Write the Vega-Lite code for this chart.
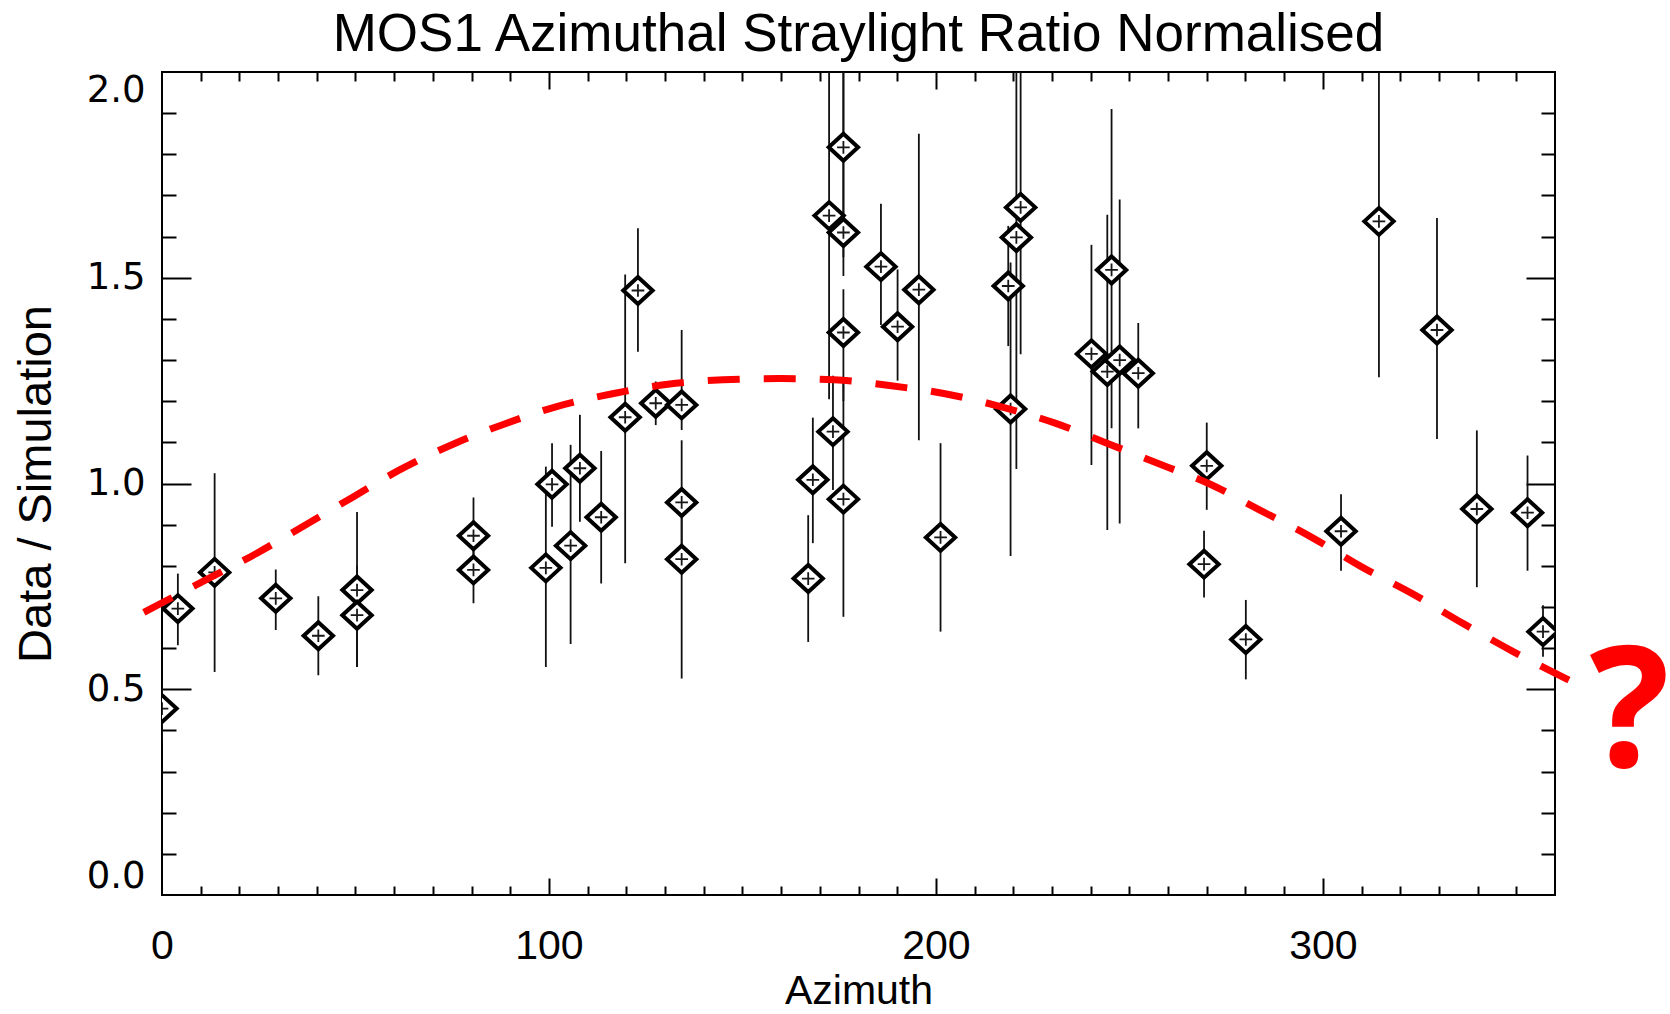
{
  "$schema": "https://vega.github.io/schema/vega-lite/v6.json",
  "autosize": {"type": "none"},
  "padding": {"left": 162, "top": 72, "right": 115, "bottom": 119},
  "width": 1393,
  "height": 823,
  "background": "white",
  "title": {"text": "MOS1 Azimuthal Straylight Ratio Normalised", "font": "Liberation Sans", "fontSize": 53, "fontWeight": "normal", "color": "black", "anchor": "middle", "offset": 9},
  "config": {
    "view": {"stroke": "black", "strokeWidth": 2},
    "axis": {"grid": false, "domain": false, "tickColor": "black", "tickWidth": 2, "labelColor": "black", "titleColor": "black"}
  },
  "datasets": {
    "pts": [
      {"az": 0, "val": 0.453, "lo": 0.37, "hi": 0.52},
      {"az": 4.1, "val": 0.696, "lo": 0.607, "hi": 0.781},
      {"az": 13.6, "val": 0.784, "lo": 0.542, "hi": 1.025},
      {"az": 29.4, "val": 0.721, "lo": 0.644, "hi": 0.791},
      {"az": 40.4, "val": 0.63, "lo": 0.534, "hi": 0.726},
      {"az": 50.4, "val": 0.741, "lo": 0.554, "hi": 0.931},
      {"az": 50.4, "val": 0.68, "lo": 0.554, "hi": 0.8},
      {"az": 80.5, "val": 0.873, "lo": 0.8, "hi": 0.966},
      {"az": 80.5, "val": 0.79, "lo": 0.709, "hi": 0.87},
      {"az": 99.2, "val": 0.795, "lo": 0.554, "hi": 1.041},
      {"az": 100.8, "val": 0.998, "lo": 0.895, "hi": 1.098},
      {"az": 105.6, "val": 0.849, "lo": 0.61, "hi": 1.094},
      {"az": 108.0, "val": 1.037, "lo": 0.907, "hi": 1.167},
      {"az": 113.5, "val": 0.918, "lo": 0.757, "hi": 1.079},
      {"az": 119.7, "val": 1.161, "lo": 0.806, "hi": 1.508},
      {"az": 123.0, "val": 1.469, "lo": 1.32, "hi": 1.62},
      {"az": 127.6, "val": 1.195, "lo": 1.142, "hi": 1.248},
      {"az": 134.3, "val": 1.191, "lo": 1.13, "hi": 1.373},
      {"az": 134.3, "val": 0.954, "lo": 0.84, "hi": 1.105},
      {"az": 134.3, "val": 0.816, "lo": 0.526, "hi": 0.95},
      {"az": 167.0, "val": 0.769, "lo": 0.615, "hi": 0.923},
      {"az": 168.2, "val": 1.009, "lo": 0.855, "hi": 1.16},
      {"az": 172.4, "val": 1.651, "lo": 1.205, "hi": 2.2},
      {"az": 173.4, "val": 1.126, "lo": 0.984, "hi": 1.262},
      {"az": 176.1, "val": 1.817, "lo": 1.55, "hi": 2.2},
      {"az": 176.1, "val": 1.61, "lo": 1.504, "hi": 2.2},
      {"az": 176.1, "val": 1.367, "lo": 1.2, "hi": 1.472},
      {"az": 176.1, "val": 0.962, "lo": 0.676, "hi": 1.25},
      {"az": 185.8, "val": 1.527, "lo": 1.385, "hi": 1.68},
      {"az": 190.1, "val": 1.381, "lo": 1.25, "hi": 1.52},
      {"az": 195.6, "val": 1.471, "lo": 1.105, "hi": 1.85},
      {"az": 201.2, "val": 0.869, "lo": 0.64, "hi": 1.098},
      {"az": 218.7, "val": 1.48, "lo": 1.334, "hi": 1.626},
      {"az": 219.3, "val": 1.181, "lo": 0.824, "hi": 1.537},
      {"az": 220.8, "val": 1.598, "lo": 1.035, "hi": 2.2},
      {"az": 221.9, "val": 1.671, "lo": 1.314, "hi": 2.2},
      {"az": 240.2, "val": 1.315, "lo": 1.045, "hi": 1.58},
      {"az": 244.3, "val": 1.272, "lo": 0.887, "hi": 1.653},
      {"az": 245.4, "val": 1.519, "lo": 1.134, "hi": 1.91},
      {"az": 247.5, "val": 1.3, "lo": 0.903, "hi": 1.69},
      {"az": 252.3, "val": 1.268, "lo": 1.134, "hi": 1.39},
      {"az": 269.3, "val": 0.804, "lo": 0.723, "hi": 0.885},
      {"az": 270.0, "val": 1.043, "lo": 0.936, "hi": 1.148},
      {"az": 280.1, "val": 0.621, "lo": 0.524, "hi": 0.717},
      {"az": 304.7, "val": 0.884, "lo": 0.788, "hi": 0.974},
      {"az": 314.5, "val": 1.637, "lo": 1.258, "hi": 2.2},
      {"az": 329.5, "val": 1.373, "lo": 1.108, "hi": 1.645},
      {"az": 339.8, "val": 0.938, "lo": 0.748, "hi": 1.129},
      {"az": 352.9, "val": 0.929, "lo": 0.788, "hi": 1.068},
      {"az": 356.9, "val": 0.64, "lo": 0.579, "hi": 0.704}
    ],
    "curve": [
      {"az": -4.7, "val": 0.687},
      {"az": 11.2, "val": 0.765},
      {"az": 24.4, "val": 0.83},
      {"az": 36.3, "val": 0.895},
      {"az": 49.5, "val": 0.968},
      {"az": 61.4, "val": 1.033},
      {"az": 75.8, "val": 1.098},
      {"az": 88.9, "val": 1.146},
      {"az": 102, "val": 1.187},
      {"az": 116.4, "val": 1.218},
      {"az": 130.7, "val": 1.241},
      {"az": 145, "val": 1.252},
      {"az": 159.4, "val": 1.255},
      {"az": 173.7, "val": 1.252},
      {"az": 188, "val": 1.238},
      {"az": 202.4, "val": 1.218},
      {"az": 216.7, "val": 1.187},
      {"az": 231, "val": 1.146},
      {"az": 244.2, "val": 1.098},
      {"az": 257.3, "val": 1.049},
      {"az": 270.5, "val": 1.0},
      {"az": 283.6, "val": 0.936},
      {"az": 296.8, "val": 0.871},
      {"az": 309.9, "val": 0.798},
      {"az": 323, "val": 0.733},
      {"az": 336.2, "val": 0.66},
      {"az": 349.3, "val": 0.591},
      {"az": 363.6, "val": 0.522}
    ],
    "note": [{"az": 379.3, "val": 0.31, "label": "?"}]
  },
  "layer": [
    {
      "data": {"name": "pts"},
      "mark": {"type": "rule", "clip": true, "color": "#111111", "strokeWidth": 1.8},
      "encoding": {
        "x": {"field": "az", "type": "quantitative", "scale": {"domain": [0, 360], "nice": false, "zero": false},
          "axis": {"orient": "bottom", "title": "Azimuth", "values": [0, 100, 200, 300], "ticks": false, "labelFont": "Liberation Sans", "labelFontSize": 41, "labelPadding": 31, "labelFlush": false, "labelOverlap": false, "titleFont": "Liberation Sans", "titleFontSize": 41, "titleFontWeight": "normal", "titlePadding": 5}},
        "y": {"field": "lo", "type": "quantitative", "scale": {"domain": [0, 2], "nice": false, "zero": false},
          "axis": {"orient": "left", "title": "Data / Simulation", "values": [0, 0.5, 1, 1.5, 2], "format": ".1f", "ticks": false, "labelFont": "DejaVu Sans", "labelFontSize": 37, "labelPadding": 17, "labelFlush": true, "labelOverlap": false, "titleFont": "Liberation Sans", "titleFontSize": 47, "titleFontWeight": "normal", "titlePadding": 26}},
        "y2": {"field": "hi"}
      }
    },
    {
      "data": {"name": "pts"},
      "mark": {"type": "point", "clip": true, "shape": "M-1,0L0,-0.92L1,0L0,0.92Z", "size": 860, "filled": true, "fill": "white", "stroke": "black", "strokeWidth": 4, "opacity": 1},
      "encoding": {
        "x": {"field": "az", "type": "quantitative", "scale": {"domain": [0, 360], "nice": false, "zero": false},
          "axis": {"orient": "bottom", "title": null, "labels": false, "values": [100, 200, 300], "tickSize": -17}},
        "y": {"field": "val", "type": "quantitative", "scale": {"domain": [0, 2], "nice": false, "zero": false},
          "axis": {"orient": "left", "title": null, "labels": false, "values": [0.5, 1, 1.5], "tickSize": -29}}
      }
    },
    {
      "data": {"name": "pts"},
      "mark": {"type": "point", "clip": true, "shape": "M-1,0L1,0M0,-1L0,1", "size": 160, "filled": false, "stroke": "black", "strokeWidth": 1.8, "opacity": 0.9},
      "encoding": {
        "x": {"field": "az", "type": "quantitative", "scale": {"domain": [0, 360], "nice": false, "zero": false},
          "axis": {"orient": "bottom", "title": null, "labels": false, "values": [10, 20, 30, 40, 50, 60, 70, 80, 90, 110, 120, 130, 140, 150, 160, 170, 180, 190, 210, 220, 230, 240, 250, 260, 270, 280, 290, 310, 320, 330, 340, 350], "tickSize": -9}},
        "y": {"field": "val", "type": "quantitative", "scale": {"domain": [0, 2], "nice": false, "zero": false},
          "axis": {"orient": "left", "title": null, "labels": false, "values": [0.1, 0.2, 0.3, 0.4, 0.6, 0.7, 0.8, 0.9, 1.1, 1.2, 1.3, 1.4, 1.6, 1.7, 1.8, 1.9], "tickSize": -14}}
      }
    },
    {
      "data": {"name": "curve"},
      "mark": {"type": "line", "clip": false, "color": "#ff0000", "strokeWidth": 7, "strokeDash": [32, 24], "interpolate": "monotone"},
      "encoding": {
        "x": {"field": "az", "type": "quantitative", "scale": {"domain": [0, 360], "nice": false, "zero": false},
          "axis": {"orient": "top", "title": null, "labels": false, "values": [100, 200, 300], "tickSize": -17}},
        "y": {"field": "val", "type": "quantitative", "scale": {"domain": [0, 2], "nice": false, "zero": false},
          "axis": {"orient": "right", "title": null, "labels": false, "values": [0.5, 1, 1.5], "tickSize": -29}}
      }
    },
    {
      "data": {"name": "note"},
      "mark": {"type": "text", "clip": false, "color": "#ff0000", "font": "Open Sans", "fontWeight": "bold", "fontSize": 168, "align": "center", "baseline": "alphabetic"},
      "encoding": {
        "x": {"field": "az", "type": "quantitative", "scale": {"domain": [0, 360], "nice": false, "zero": false},
          "axis": {"orient": "top", "title": null, "labels": false, "values": [10, 20, 30, 40, 50, 60, 70, 80, 90, 110, 120, 130, 140, 150, 160, 170, 180, 190, 210, 220, 230, 240, 250, 260, 270, 280, 290, 310, 320, 330, 340, 350], "tickSize": -9}},
        "y": {"field": "val", "type": "quantitative", "scale": {"domain": [0, 2], "nice": false, "zero": false},
          "axis": {"orient": "right", "title": null, "labels": false, "values": [0.1, 0.2, 0.3, 0.4, 0.6, 0.7, 0.8, 0.9, 1.1, 1.2, 1.3, 1.4, 1.6, 1.7, 1.8, 1.9], "tickSize": -14}},
        "text": {"field": "label"}
      }
    }
  ],
  "resolve": {"axis": {"x": "independent", "y": "independent"}}
}
